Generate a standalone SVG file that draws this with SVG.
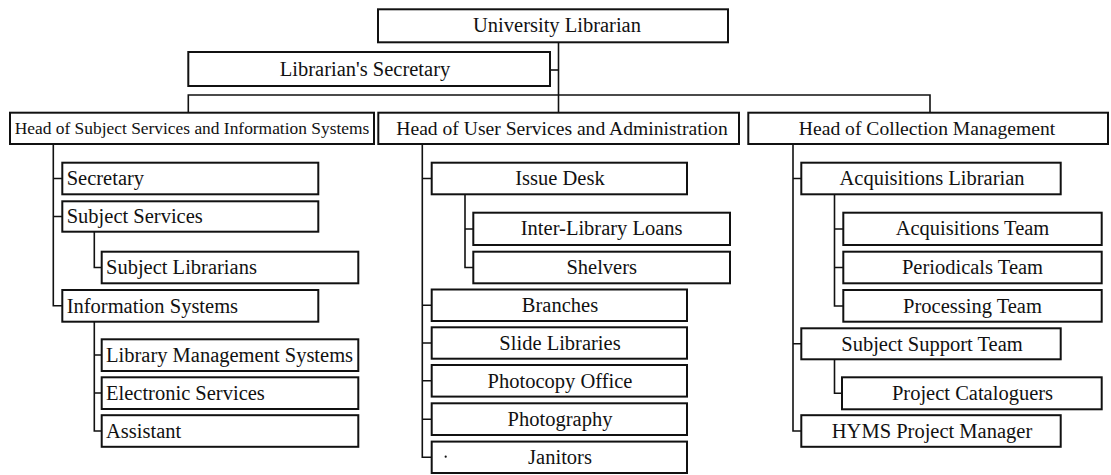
<svg xmlns="http://www.w3.org/2000/svg" width="1111" height="475" viewBox="0 0 1111 475">
  <style>
    .box { fill: #ffffff; stroke: #111111; stroke-width: 2; }
    .conn { fill: none; stroke: #111111; stroke-width: 1.6; }
    text { font-family: "Liberation Serif", "Times New Roman", serif; font-size: 20.5px; fill: #111111; }
    .c { text-anchor: middle; }
    .l { text-anchor: start; }
    .small { font-size: 17.4px; }
    .head { font-size: 19.6px; }
  </style>
  <rect width="1111" height="475" fill="#ffffff"/>

  <!-- connectors -->
  <g id="connectors" class="conn">
    <!-- top level -->
    <path d="M558.5 42.3 V112.7"/>
    <path d="M550 70 H558.5"/>
    <path d="M188.3 112.7 V95 H930 V112.7"/>
    <!-- subject services & information systems -->
    <path d="M53.3 144 V305.8 H62.3"/>
    <path d="M53.3 178.5 H62.3 M53.3 216.5 H62.3"/>
    <path d="M94.3 231.7 V267.5 H101.7"/>
    <path d="M94.3 321.7 V431 H101.7 M94.3 355 H101.7 M94.3 393 H101.7"/>
    <!-- user services & administration -->
    <path d="M422.3 144 V457.3 H431.7"/>
    <path d="M422.3 178.5 H431.7 M422.3 305.2 H431.7 M422.3 343 H431.7 M422.3 380.8 H431.7 M422.3 419.2 H431.7"/>
    <path d="M465 194.3 V267.5 H473.3 M465 229 H473.3"/>
    <!-- collection management -->
    <path d="M793 144 V431 H801.3 M793 178.5 H801.3 M793 343.8 H801.3"/>
    <path d="M834.5 194.3 V306 H843.3 M834.5 229 H843.3 M834.5 267.5 H843.3"/>
    <path d="M834.5 359.3 V393.3 H842"/>
  </g>

  <!-- top level -->
  <g id="university-librarian">
    <rect class="box" x="378" y="9.3" width="350" height="33"/>
    <text class="c" x="557" y="32.3">University Librarian</text>
  </g>
  <g id="librarians-secretary">
    <rect class="box" x="188.3" y="52" width="361.7" height="34"/>
    <text class="c" x="365" y="76">Librarian's Secretary</text>
  </g>

  <!-- heads -->
  <g id="head-subject-services">
    <rect class="box" x="10" y="112.7" width="364" height="31.3"/>
    <text class="c small" x="192" y="133.5">Head of Subject Services and Information Systems</text>
  </g>
  <g id="head-user-services">
    <rect class="box" x="378.3" y="112.7" width="360.7" height="31.3"/>
    <text class="c head" x="562" y="135">Head of User Services and Administration</text>
  </g>
  <g id="head-collection-management">
    <rect class="box" x="748.3" y="112.7" width="359.7" height="31.3"/>
    <text class="c head" x="927" y="135">Head of Collection Management</text>
  </g>

  <!-- subject services & information systems -->
  <g id="secretary">
    <rect class="box" x="62.3" y="162.7" width="256" height="31.6"/>
    <text class="l" x="66.7" y="185">Secretary</text>
  </g>
  <g id="subject-services">
    <rect class="box" x="62.3" y="201.3" width="256" height="30.4"/>
    <text class="l" x="66.7" y="223.3">Subject Services</text>
  </g>
  <g id="subject-librarians">
    <rect class="box" x="101.7" y="251.7" width="256.6" height="31.6"/>
    <text class="l" x="106" y="274">Subject Librarians</text>
  </g>
  <g id="information-systems">
    <rect class="box" x="62.3" y="290" width="256" height="31.7"/>
    <text class="l" x="66.7" y="312.5">Information Systems</text>
  </g>
  <g id="library-management-systems">
    <rect class="box" x="101.7" y="339.3" width="256.6" height="31.7"/>
    <text class="l" x="106" y="361.8">Library Management Systems</text>
  </g>
  <g id="electronic-services">
    <rect class="box" x="101.7" y="377.3" width="256.6" height="31.7"/>
    <text class="l" x="106" y="399.8">Electronic Services</text>
  </g>
  <g id="assistant">
    <rect class="box" x="101.7" y="415.2" width="256.6" height="31.6"/>
    <text class="l" x="106" y="437.6">Assistant</text>
  </g>

  <!-- user services & administration -->
  <g id="issue-desk">
    <rect class="box" x="431.7" y="162.7" width="255.3" height="31.6"/>
    <text class="c" x="560" y="185">Issue Desk</text>
  </g>
  <g id="inter-library-loans">
    <rect class="box" x="473.3" y="212.7" width="256.7" height="32.3"/>
    <text class="c" x="601.7" y="235.3">Inter-Library Loans</text>
  </g>
  <g id="shelvers">
    <rect class="box" x="473.3" y="251.7" width="256.7" height="31.6"/>
    <text class="c" x="601.7" y="274">Shelvers</text>
  </g>
  <g id="branches">
    <rect class="box" x="431.7" y="289.5" width="255.3" height="31.5"/>
    <text class="c" x="560" y="312">Branches</text>
  </g>
  <g id="slide-libraries">
    <rect class="box" x="431.7" y="327.3" width="255.3" height="31.4"/>
    <text class="c" x="560" y="349.8">Slide Libraries</text>
  </g>
  <g id="photocopy-office">
    <rect class="box" x="431.7" y="365" width="255.3" height="31.6"/>
    <text class="c" x="560" y="387.6">Photocopy Office</text>
  </g>
  <g id="photography">
    <rect class="box" x="431.7" y="403.3" width="255.3" height="31.7"/>
    <text class="c" x="560" y="425.8">Photography</text>
  </g>
  <g id="janitors">
    <rect class="box" x="431.7" y="441.6" width="255.3" height="31.4"/>
    <circle cx="445.7" cy="456.7" r="1.1" fill="#111111"/>
    <text class="c" x="560" y="464">Janitors</text>
  </g>

  <!-- collection management -->
  <g id="acquisitions-librarian">
    <rect class="box" x="801.3" y="162.7" width="259.4" height="31.6"/>
    <text class="c" x="932" y="185">Acquisitions Librarian</text>
  </g>
  <g id="acquisitions-team">
    <rect class="box" x="843.3" y="212.7" width="258.4" height="32.3"/>
    <text class="c" x="972.5" y="235.3">Acquisitions Team</text>
  </g>
  <g id="periodicals-team">
    <rect class="box" x="843.3" y="251.7" width="258.4" height="31.6"/>
    <text class="c" x="972.5" y="274">Periodicals Team</text>
  </g>
  <g id="processing-team">
    <rect class="box" x="843.3" y="290" width="258.4" height="31.7"/>
    <text class="c" x="972.5" y="312.5">Processing Team</text>
  </g>
  <g id="subject-support-team">
    <rect class="box" x="801.3" y="328.3" width="259.4" height="31"/>
    <text class="c" x="932" y="350.5">Subject Support Team</text>
  </g>
  <g id="project-cataloguers">
    <rect class="box" x="842" y="377.3" width="259.7" height="32"/>
    <text class="c" x="972.5" y="399.8">Project Cataloguers</text>
  </g>
  <g id="hyms-project-manager">
    <rect class="box" x="801.3" y="415.2" width="259.4" height="31.6"/>
    <text class="c" x="932" y="437.6">HYMS Project Manager</text>
  </g>
</svg>
